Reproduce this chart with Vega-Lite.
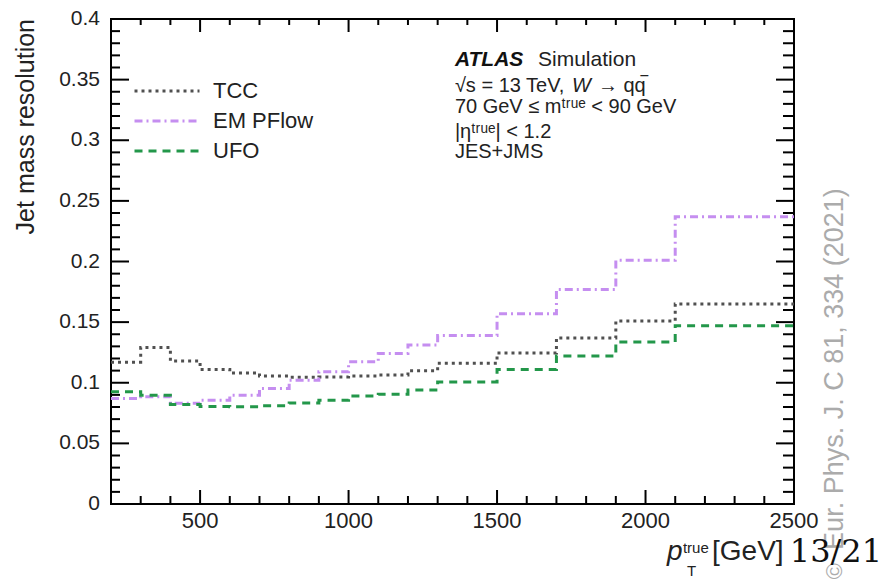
{
  "$schema": "https://vega.github.io/schema/vega-lite/v6.json",
  "width": 683,
  "height": 485,
  "autosize": {"type": "none"},
  "padding": {"left": 111, "top": 19, "right": 88, "bottom": 77},
  "background": "white",
  "config": {
    "view": {"stroke": "#000", "strokeWidth": 2},
    "font": "Liberation Sans",
    "axis": {"grid": false, "domainColor": "#000", "domainWidth": 2, "labelColor": "#222", "labelFont": "Liberation Sans", "title": null, "ticks": false}
  },
  "datasets": {
    "jmr": [
      {"series": "TCC", "pt": 200, "res": 0.117},
      {"series": "TCC", "pt": 300, "res": 0.129},
      {"series": "TCC", "pt": 400, "res": 0.118},
      {"series": "TCC", "pt": 500, "res": 0.111},
      {"series": "TCC", "pt": 600, "res": 0.108},
      {"series": "TCC", "pt": 700, "res": 0.1055},
      {"series": "TCC", "pt": 800, "res": 0.1045},
      {"series": "TCC", "pt": 900, "res": 0.1048},
      {"series": "TCC", "pt": 1000, "res": 0.1056},
      {"series": "TCC", "pt": 1100, "res": 0.1064},
      {"series": "TCC", "pt": 1200, "res": 0.110},
      {"series": "TCC", "pt": 1300, "res": 0.116},
      {"series": "TCC", "pt": 1500, "res": 0.1245},
      {"series": "TCC", "pt": 1700, "res": 0.137},
      {"series": "TCC", "pt": 1900, "res": 0.151},
      {"series": "TCC", "pt": 2100, "res": 0.165},
      {"series": "TCC", "pt": 2500, "res": 0.165},
      {"series": "EM PFlow", "pt": 200, "res": 0.087},
      {"series": "EM PFlow", "pt": 300, "res": 0.0884},
      {"series": "EM PFlow", "pt": 400, "res": 0.083},
      {"series": "EM PFlow", "pt": 500, "res": 0.0856},
      {"series": "EM PFlow", "pt": 600, "res": 0.0897},
      {"series": "EM PFlow", "pt": 700, "res": 0.0952},
      {"series": "EM PFlow", "pt": 800, "res": 0.1021},
      {"series": "EM PFlow", "pt": 900, "res": 0.109},
      {"series": "EM PFlow", "pt": 1000, "res": 0.1173},
      {"series": "EM PFlow", "pt": 1100, "res": 0.1242},
      {"series": "EM PFlow", "pt": 1200, "res": 0.1311},
      {"series": "EM PFlow", "pt": 1300, "res": 0.139},
      {"series": "EM PFlow", "pt": 1500, "res": 0.157},
      {"series": "EM PFlow", "pt": 1700, "res": 0.177},
      {"series": "EM PFlow", "pt": 1900, "res": 0.201},
      {"series": "EM PFlow", "pt": 2100, "res": 0.237},
      {"series": "EM PFlow", "pt": 2500, "res": 0.237},
      {"series": "UFO", "pt": 200, "res": 0.0925},
      {"series": "UFO", "pt": 300, "res": 0.0897},
      {"series": "UFO", "pt": 400, "res": 0.082},
      {"series": "UFO", "pt": 500, "res": 0.0805},
      {"series": "UFO", "pt": 600, "res": 0.0802},
      {"series": "UFO", "pt": 700, "res": 0.081},
      {"series": "UFO", "pt": 800, "res": 0.0834},
      {"series": "UFO", "pt": 900, "res": 0.0856},
      {"series": "UFO", "pt": 1000, "res": 0.089},
      {"series": "UFO", "pt": 1100, "res": 0.0905},
      {"series": "UFO", "pt": 1200, "res": 0.094},
      {"series": "UFO", "pt": 1300, "res": 0.1007},
      {"series": "UFO", "pt": 1500, "res": 0.111},
      {"series": "UFO", "pt": 1700, "res": 0.122},
      {"series": "UFO", "pt": 1900, "res": 0.1336},
      {"series": "UFO", "pt": 2100, "res": 0.147},
      {"series": "UFO", "pt": 2500, "res": 0.147}
    ],
    "xmajor": [{"v": 500}, {"v": 1000}, {"v": 1500}, {"v": 2000}],
    "xminor": [{"v": 300}, {"v": 400}, {"v": 600}, {"v": 700}, {"v": 800}, {"v": 900}, {"v": 1100}, {"v": 1200}, {"v": 1300}, {"v": 1400}, {"v": 1600}, {"v": 1700}, {"v": 1800}, {"v": 1900}, {"v": 2100}, {"v": 2200}, {"v": 2300}, {"v": 2400}],
    "ymajor": [{"v": 0.05}, {"v": 0.1}, {"v": 0.15}, {"v": 0.2}, {"v": 0.25}, {"v": 0.3}, {"v": 0.35}],
    "yminor": [{"v": 0.01}, {"v": 0.02}, {"v": 0.03}, {"v": 0.04}, {"v": 0.06}, {"v": 0.07}, {"v": 0.08}, {"v": 0.09}, {"v": 0.11}, {"v": 0.12}, {"v": 0.13}, {"v": 0.14}, {"v": 0.16}, {"v": 0.17}, {"v": 0.18}, {"v": 0.19}, {"v": 0.21}, {"v": 0.22}, {"v": 0.23}, {"v": 0.24}, {"v": 0.26}, {"v": 0.27}, {"v": 0.28}, {"v": 0.29}, {"v": 0.31}, {"v": 0.32}, {"v": 0.33}, {"v": 0.34}, {"v": 0.36}, {"v": 0.37}, {"v": 0.38}, {"v": 0.39}],
    "xlabels": [{"v": 500}, {"v": 1000}, {"v": 1500}, {"v": 2000}, {"v": 2500}],
    "ylabels": [{"v": 0}, {"v": 0.05}, {"v": 0.1}, {"v": 0.15}, {"v": 0.2}, {"v": 0.25}, {"v": 0.3}, {"v": 0.35}, {"v": 0.4}]
  },
  "layer": [
    {
      "data": {"name": "jmr"},
      "mark": {"type": "line", "interpolate": "step-after", "strokeWidth": 3},
      "encoding": {
        "x": {"field": "pt", "type": "quantitative", "scale": {"domain": [200, 2500], "nice": false, "zero": false}, "axis": null},
        "y": {"field": "res", "type": "quantitative", "scale": {"domain": [0, 0.4], "nice": false}, "axis": null},
        "color": {
          "field": "series", "type": "nominal",
          "scale": {"domain": ["TCC", "EM PFlow", "UFO"], "range": ["#505050", "#c58ef0", "#23974a"]},
          "legend": {"title": null, "orient": "none", "legendX": 22, "legendY": 57, "symbolType": "stroke", "symbolSize": 4225, "symbolStrokeWidth": 3, "labelFontSize": 22, "labelColor": "#222", "labelOffset": 12, "clipHeight": 30, "rowPadding": 0, "padding": 0}
        },
        "strokeDash": {
          "field": "series", "type": "nominal",
          "scale": {"domain": ["TCC", "EM PFlow", "UFO"], "range": [[3, 4], [8, 4, 2, 4], [8, 6]]},
          "legend": {"title": null, "orient": "none", "legendX": 22, "legendY": 57, "symbolType": "stroke", "symbolSize": 4225, "symbolStrokeWidth": 3, "labelFontSize": 22, "labelColor": "#222", "labelOffset": 12, "clipHeight": 30, "rowPadding": 0, "padding": 0}
        }
      }
    },
    {
      "data": {"name": "xmajor"},
      "mark": {"type": "tick", "orient": "vertical", "size": 14, "thickness": 2, "color": "#000", "opacity": 1, "yOffset": -7},
      "encoding": {"x": {"field": "v", "type": "quantitative", "axis": null}, "y": {"datum": 0, "type": "quantitative", "axis": null}}
    },
    {
      "data": {"name": "xminor"},
      "mark": {"type": "tick", "orient": "vertical", "size": 8, "thickness": 2, "color": "#000", "opacity": 1, "yOffset": -4},
      "encoding": {"x": {"field": "v", "type": "quantitative", "axis": null}, "y": {"datum": 0, "type": "quantitative", "axis": null}}
    },
    {
      "data": {"name": "xmajor"},
      "mark": {"type": "tick", "orient": "vertical", "size": 13, "thickness": 2, "color": "#000", "opacity": 1, "yOffset": 6.5},
      "encoding": {"x": {"field": "v", "type": "quantitative", "axis": null}, "y": {"datum": 0.4, "type": "quantitative", "axis": null}}
    },
    {
      "data": {"name": "xminor"},
      "mark": {"type": "tick", "orient": "vertical", "size": 6, "thickness": 2, "color": "#000", "opacity": 1, "yOffset": 3},
      "encoding": {"x": {"field": "v", "type": "quantitative", "axis": null}, "y": {"datum": 0.4, "type": "quantitative", "axis": null}}
    },
    {
      "data": {"name": "ymajor"},
      "mark": {"type": "tick", "orient": "horizontal", "size": 18, "thickness": 2, "color": "#000", "opacity": 1, "xOffset": 9},
      "encoding": {"y": {"field": "v", "type": "quantitative", "axis": null}, "x": {"datum": 200, "type": "quantitative", "axis": null}}
    },
    {
      "data": {"name": "yminor"},
      "mark": {"type": "tick", "orient": "horizontal", "size": 9, "thickness": 2, "color": "#000", "opacity": 1, "xOffset": 4.5},
      "encoding": {"y": {"field": "v", "type": "quantitative", "axis": null}, "x": {"datum": 200, "type": "quantitative", "axis": null}}
    },
    {
      "data": {"name": "ymajor"},
      "mark": {"type": "tick", "orient": "horizontal", "size": 18, "thickness": 2, "color": "#000", "opacity": 1, "xOffset": -9},
      "encoding": {"y": {"field": "v", "type": "quantitative", "axis": null}, "x": {"datum": 2500, "type": "quantitative", "axis": null}}
    },
    {
      "data": {"name": "yminor"},
      "mark": {"type": "tick", "orient": "horizontal", "size": 11, "thickness": 2, "color": "#000", "opacity": 1, "xOffset": -5.5},
      "encoding": {"y": {"field": "v", "type": "quantitative", "axis": null}, "x": {"datum": 2500, "type": "quantitative", "axis": null}}
    },
    {
      "data": {"name": "xlabels"},
      "mark": {"type": "text", "fontSize": 22, "align": "center", "baseline": "top", "dy": 7, "color": "#222"},
      "encoding": {"x": {"field": "v", "type": "quantitative", "axis": null}, "y": {"datum": 0, "type": "quantitative", "axis": null}, "text": {"field": "v", "type": "quantitative", "format": "d"}}
    },
    {
      "data": {"name": "ylabels"},
      "mark": {"type": "text", "fontSize": 21, "align": "right", "baseline": "middle", "dx": -11, "color": "#222"},
      "encoding": {"y": {"field": "v", "type": "quantitative", "axis": null}, "x": {"datum": 200, "type": "quantitative", "axis": null}, "text": {"field": "v", "type": "quantitative", "format": "~g"}}
    },
    {
      "data": {"values": [{}]},
      "mark": {"type": "text", "text": "Jet mass resolution", "fontSize": 25, "angle": 270, "align": "right", "baseline": "middle", "dy": -6, "color": "#222"},
      "encoding": {"x": {"datum": -66, "type": "quantitative", "axis": null}, "y": {"datum": 0.4, "type": "quantitative", "axis": null}}
    },
    {
      "data": {"values": [{}]},
      "mark": {"type": "text", "text": "ATLAS", "fontSize": 21, "fontWeight": "bold", "fontStyle": "italic", "align": "left", "baseline": "alphabetic", "color": "#111"},
      "encoding": {"x": {"datum": 1358, "type": "quantitative", "axis": null}, "y": {"datum": 0.3612, "type": "quantitative", "axis": null}}
    },
    {
      "data": {"values": [{}]},
      "mark": {"type": "text", "text": "Simulation", "fontSize": 21, "align": "left", "baseline": "alphabetic", "color": "#222"},
      "encoding": {"x": {"datum": 1638, "type": "quantitative", "axis": null}, "y": {"datum": 0.3612, "type": "quantitative", "axis": null}}
    },
    {
      "data": {"values": [{}]},
      "mark": {"type": "text", "text": "√s = 13 TeV,", "fontSize": 20, "align": "left", "baseline": "alphabetic", "color": "#222"},
      "encoding": {"x": {"datum": 1358, "type": "quantitative", "axis": null}, "y": {"datum": 0.3396, "type": "quantitative", "axis": null}}
    },
    {
      "data": {"values": [{}]},
      "mark": {"type": "text", "text": "W", "fontSize": 20, "fontStyle": "italic", "align": "left", "baseline": "alphabetic", "color": "#222", "dx": 117},
      "encoding": {"x": {"datum": 1358, "type": "quantitative", "axis": null}, "y": {"datum": 0.3396, "type": "quantitative", "axis": null}}
    },
    {
      "data": {"values": [{}]},
      "mark": {"type": "text", "text": "→ qq", "fontSize": 20, "align": "left", "baseline": "alphabetic", "color": "#222", "dx": 143},
      "encoding": {"x": {"datum": 1358, "type": "quantitative", "axis": null}, "y": {"datum": 0.3396, "type": "quantitative", "axis": null}}
    },
    {
      "data": {"values": [{}]},
      "mark": {"type": "text", "text": "‾", "fontSize": 20, "align": "left", "baseline": "alphabetic", "color": "#222", "dx": 186, "dy": -1},
      "encoding": {"x": {"datum": 1358, "type": "quantitative", "axis": null}, "y": {"datum": 0.3396, "type": "quantitative", "axis": null}}
    },
    {
      "data": {"values": [{}]},
      "mark": {"type": "text", "text": "70 GeV ≤ mᵗʳᵘᵉ < 90 GeV", "fontSize": 20, "align": "left", "baseline": "alphabetic", "color": "#222"},
      "encoding": {"x": {"datum": 1358, "type": "quantitative", "axis": null}, "y": {"datum": 0.3225, "type": "quantitative", "axis": null}}
    },
    {
      "data": {"values": [{}]},
      "mark": {"type": "text", "text": "|ηᵗʳᵘᵉ| < 1.2", "fontSize": 20, "align": "left", "baseline": "alphabetic", "color": "#222"},
      "encoding": {"x": {"datum": 1358, "type": "quantitative", "axis": null}, "y": {"datum": 0.3019, "type": "quantitative", "axis": null}}
    },
    {
      "data": {"values": [{}]},
      "mark": {"type": "text", "text": "JES+JMS", "fontSize": 20, "align": "left", "baseline": "alphabetic", "color": "#222"},
      "encoding": {"x": {"datum": 1358, "type": "quantitative", "axis": null}, "y": {"datum": 0.2854, "type": "quantitative", "axis": null}}
    },
    {
      "data": {"values": [{}]},
      "mark": {"type": "text", "text": "p", "fontSize": 28, "fontStyle": "italic", "align": "left", "baseline": "alphabetic", "color": "#222"},
      "encoding": {"x": {"datum": 2072, "type": "quantitative", "axis": null}, "y": {"datum": -0.0462, "type": "quantitative", "axis": null}}
    },
    {
      "data": {"values": [{}]},
      "mark": {"type": "text", "text": "true", "fontSize": 15, "align": "left", "baseline": "alphabetic", "color": "#222"},
      "encoding": {"x": {"datum": 2126, "type": "quantitative", "axis": null}, "y": {"datum": -0.0404, "type": "quantitative", "axis": null}}
    },
    {
      "data": {"values": [{}]},
      "mark": {"type": "text", "text": "T", "fontSize": 15, "align": "left", "baseline": "alphabetic", "color": "#222"},
      "encoding": {"x": {"datum": 2140, "type": "quantitative", "axis": null}, "y": {"datum": -0.0594, "type": "quantitative", "axis": null}}
    },
    {
      "data": {"values": [{}]},
      "mark": {"type": "text", "text": "[GeV]", "fontSize": 28, "align": "left", "baseline": "alphabetic", "color": "#222"},
      "encoding": {"x": {"datum": 2224, "type": "quantitative", "axis": null}, "y": {"datum": -0.0462, "type": "quantitative", "axis": null}}
    },
    {
      "data": {"values": [{}]},
      "mark": {"type": "text", "text": "Eur. Phys. J. C 81, 334 (2021)", "fontSize": 27, "angle": 270, "align": "center", "baseline": "middle", "color": "#ababab"},
      "encoding": {"x": {"datum": 2638, "type": "quantitative", "axis": null}, "y": {"datum": 0.1113, "type": "quantitative", "axis": null}}
    },
    {
      "data": {"values": [{}]},
      "mark": {"type": "text", "text": "©", "fontSize": 22, "angle": 270, "align": "center", "baseline": "middle", "color": "#ababab"},
      "encoding": {"x": {"datum": 2638, "type": "quantitative", "axis": null}, "y": {"datum": -0.0553, "type": "quantitative", "axis": null}}
    },
    {
      "data": {"values": [{}]},
      "mark": {"type": "text", "text": "13/21", "font": "DejaVu Serif", "fontSize": 32, "align": "left", "baseline": "alphabetic", "color": "#111"},
      "encoding": {"x": {"datum": 2486, "type": "quantitative", "axis": null}, "y": {"datum": -0.0478, "type": "quantitative", "axis": null}}
    }
  ]
}
